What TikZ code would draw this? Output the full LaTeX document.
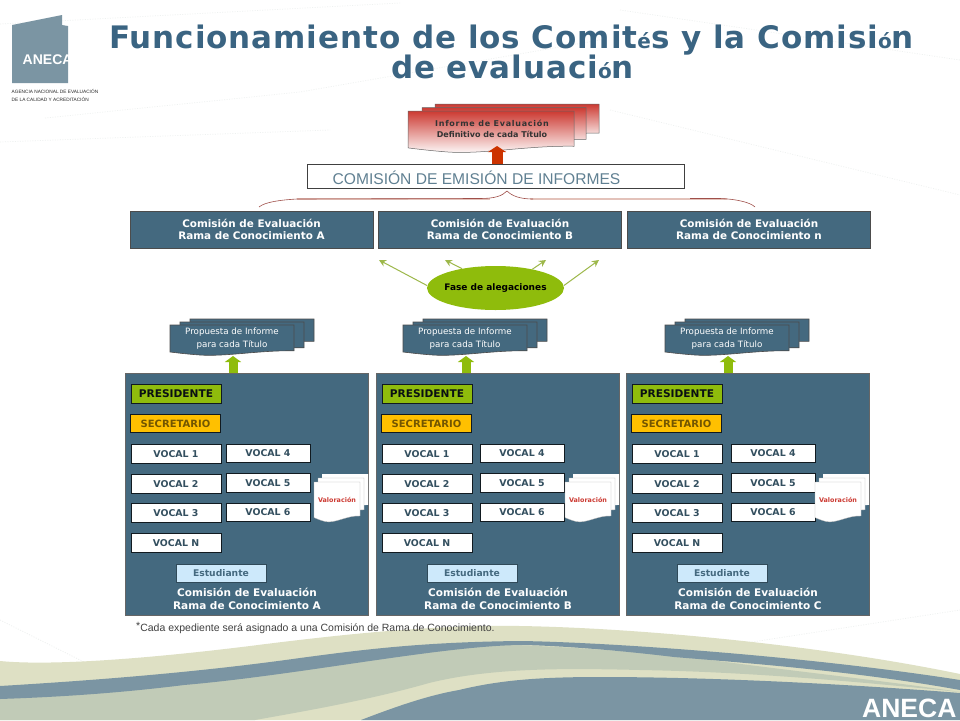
\documentclass[tikz,border=0pt]{standalone}
\usepackage{fontspec}
\setmainfont{DejaVu Sans}
\newfontfamily\lib{Liberation Sans}
\newfontfamily\titlef[LetterSpace=3]{DejaVu Sans}
\newfontfamily\spacedf[LetterSpace=9]{DejaVu Sans}
\usetikzlibrary{arrows.meta,shapes.geometric}
\definecolor{panelblue}{HTML}{44697F}
\definecolor{titleblue}{HTML}{3A6482}
\definecolor{slate}{HTML}{7B95A3}
\definecolor{khaki}{HTML}{DEE0C4}
\definecolor{sage}{HTML}{C1CBB7}
\definecolor{leaf}{HTML}{8FBC0C}
\definecolor{spokec}{HTML}{9DB84A}
\definecolor{amber}{HTML}{FFC000}
\definecolor{sky}{HTML}{CDE9FB}
\definecolor{brick}{HTML}{CC3300}
\definecolor{rosso}{HTML}{CC3A32}
\definecolor{bracec}{HTML}{A0504A}
\definecolor{bracep}{HTML}{E3C2BA}
\definecolor{ghost}{HTML}{EEF1F0}
\newcommand{\fs}[1]{\fontsize{#1}{#1}\selectfont}
\newcommand{\wavy}[5]{%
  \path[#5] (#1,#2) -- ({#1+#3},#2) -- ({#1+#3},{#2+#4*0.86})
    .. controls ({#1+#3*0.72},{#2+#4*0.84}) and ({#1+#3*0.45},{#2+#4*1.06}) .. ({#1+#3*0.24},{#2+#4})
    .. controls ({#1+#3*0.14},{#2+#4*0.97}) and ({#1+#3*0.06},{#2+#4*0.93}) .. (#1,{#2+#4*0.9}) -- cycle;}
\tikzset{
  x=1pt,y=-1pt,
  comhead/.style={rectangle,fill=panelblue,draw=black!70,line width=.6pt,minimum width=243pt,minimum height=37pt,inner sep=0,align=center,text=white,font=\bfseries\fs{10.4}},
  panel/.style={rectangle,fill=panelblue,draw=black!60,line width=.5pt,minimum width=243pt,minimum height=242pt,inner sep=0},
  rolebox/.style={rectangle,draw=black!75!panelblue,line width=.8pt,minimum width=90pt,minimum height=18.5pt,inner sep=0,font=\bfseries\fs{9.4}},
  vocal/.style={rolebox,fill=white,text=panelblue!75!black},
  vocalb/.style={vocal,minimum width=84pt},
  pres/.style={rolebox,fill=leaf,text=black!85!panelblue,font=\bfseries\fs{10.6}},
  secr/.style={rolebox,fill=amber,text=black!55!amber,font=\bfseries\fs{10}},
  estud/.style={rolebox,fill=sky,draw=panelblue!70!black,text=panelblue,font=\bfseries\fs{9.2}},
  captext/.style={text=white,font=\bfseries\fs{10.5},align=center,inner sep=0},
  proptxt/.style={text=white,font=\fs{8.7},align=center,inner sep=0},
  docpage/.style={fill=panelblue,draw=black!70,line width=.6pt},
  valpage/.style={fill=white,draw=none},
  valedge/.style={fill=white,draw=black!30,line width=.3pt},
  uparrow/.style={line width=9pt,draw=leaf,-{Triangle[width=16pt,length=6pt]}},
  redarrow/.style={line width=11pt,draw=brick,-{Triangle[width=18pt,length=6pt]}},
  spoke/.style={draw=spokec,line width=1pt,-{Stealth[length=7pt,width=7pt]}},
  bracel/.style={draw=bracec,line width=.6pt},
  bracew/.style={draw=bracep,line width=1.8pt},
  ghostl/.style={draw=ghost,line width=.7pt,dash pattern=on 1pt off 1.5pt},
}
\newcommand{\commission}[5]{%
  \node[panel,anchor=north west] (panel#2) at (#1,373) {};
  \wavy{#4+20}{319}{124}{26}{docpage}
  \wavy{#4+10}{322}{124}{30}{docpage}
  \wavy{#4}{325}{124}{30}{docpage}
  \node[proptxt] (prop#2) at ({#4+62},338.5) {Propuesta de Informe\\[3pt]para cada Título};
  \coordinate (propb#2) at ({#4+63},356);
  \draw[uparrow] (panel#2.north -| propb#2) -- (propb#2);
  \node[pres] (pr#2) at ({#1+51},394) {PRESIDENTE};
  \node[secr] (se#2) at ({#1+50.5},423.5) {SECRETARIO};
  \node[vocal] (va#2) at ({#1+51},454) {VOCAL 1};
  \node[vocal] (vb#2) at ({#1+51},484) {VOCAL 2};
  \node[vocal] (vc#2) at ({#1+51},513) {VOCAL 3};
  \node[vocal] (vn#2) at ({#1+51},543) {VOCAL N};
  \node[vocalb] (vd#2) at (#5,453.5) {VOCAL 4};
  \node[vocalb] (ve#2) at (#5,483) {VOCAL 5};
  \node[vocalb] (vf#2) at (#5,512.5) {VOCAL 6};
  \wavy{#1+197}{474}{46}{36}{valpage}
  \wavy{#1+193}{478}{46}{37}{valedge}
  \wavy{#1+189}{482}{46}{39.5}{valedge}
  \node[text=rosso,font=\bfseries\fs{6.4},inner sep=0] (val#2) at ({#1+212},499.5) {Valoración};
  \node[estud] (es#2) at ({#1+96},573.5) {Estudiante};
  \node[captext] (ca#2) at ({#1+122},599) {Comisión de Evaluación\\[2.5pt]Rama de Conocimiento #3};
}
\begin{document}
\begin{tikzpicture}
\useasboundingbox (0,0) rectangle (960,720);
\fill[white] (0,0) rectangle (960,720);
% faint background lines
\draw[ghostl] (0,24) -- (400,3);
\draw[ghostl] (45,118) -- (300,92) -- (600,40);
\draw[ghostl] (0,142) -- (330,130);
\draw[ghostl] (610,110) -- (960,195);
\draw[ghostl] (620,10) -- (960,60);
\draw[ghostl] (0,620) -- (120,680);
\draw[ghostl] (700,650) -- (960,610);
% footer waves
\fill[khaki] (0,661) .. controls (40,665) and (120,662) .. (250,646)
  .. controls (360,632) and (440,625) .. (520,626)
  .. controls (640,628) and (820,645) .. (960,674) -- (960,720) -- (0,720) -- cycle;
\fill[sage] (0,699) .. controls (120,690) and (300,665) .. (429,648)
  .. controls (500,640) and (600,650) .. (674,655) .. controls (780,670) and (880,680) .. (960,692)
  .. controls (880,684) and (760,672) .. (640,670) .. controls (560,668) and (490,668) .. (429,683) .. controls (370,700) and (300,712) .. (255,720) -- (0,720) -- cycle;
\fill[slate] (0,686) .. controls (100,680) and (200,672) .. (300,658) .. controls (360,650) and (420,642) .. (520,641)
  .. controls (600,642) and (800,655) .. (960,680) -- (960,690)
  .. controls (860,672) and (760,664) .. (674,657) .. controls (600,648) and (540,645) .. (520,645)
  .. controls (440,646) and (300,675) .. (184,685) .. controls (120,693) and (60,697) .. (0,699) -- cycle;
\fill[slate] (361,720) .. controls (400,705) and (430,695) .. (459,690) .. controls (500,680) and (540,677) .. (600,677)
  .. controls (720,677) and (860,685) .. (960,693) -- (960,720) -- cycle;
\node[text=white,font=\lib\bfseries\fs{26.5},inner sep=0,anchor=base west] (anecab) at (862,717.5) {ANECA};
% logo
\fill[slate] (12,25) -- (62,15) -- (62,25) -- (68,26) -- (68,83) -- (12,83) -- cycle;
\begin{scope}
\clip (12,15) rectangle (68,83);
\node[text=white,font=\lib\bfseries\fs{14},inner sep=0,anchor=base west] (anecal) at (22.5,64) {ANECA};
\end{scope}
\node[anchor=base west,inner sep=0,text=black!85,font=\lib\fs{4.75}] (lg1) at (11.5,93) {AGENCIA NACIONAL DE EVALUACIÓN};
\node[anchor=base west,inner sep=0,text=black!85,font=\lib\fs{4.75}] (lg2) at (11.5,101) {DE LA CALIDAD Y ACREDITACIÓN};
% title
\node[anchor=base,inner sep=0,text=titleblue,font=\titlef\bfseries\fs{31}] (t1) at (511.5,48.5) {Funcionamiento de los Comit{\fs{20}é}s y la Comisi{\fs{20}ó}n};
\node[anchor=base,inner sep=0,text=titleblue,font=\titlef\bfseries\fs{31}] (t2) at (512.5,78.5) {de evaluaci{\fs{20}ó}n};
% final report
\wavy{435}{104}{164}{34}{top color=rosso,bottom color=white,draw=black!60,line width=.5pt}
\wavy{422}{107.5}{164}{37}{top color=rosso,bottom color=white,draw=black!60,line width=.5pt}
\wavy{408}{111}{166}{41}{top color=rosso,bottom color=white,draw=black!60,line width=.5pt}
\node[font=\bfseries\fs{8},text=black!80,align=center,inner sep=0] (inf) at (492,129) {{\spacedf\bfseries Informe de Evaluación}\\[2.5pt]Definitivo de cada Título};
\node[rectangle,draw=black!75,fill=white,line width=.6pt,minimum width=377pt,minimum height=24pt,inner sep=0] (emis) at (495.5,176) {};
\node[font=\lib\fs{15.6},text=panelblue!85,inner sep=0] (emist) at (476.5,177.5) {COMISIÓN DE EMISIÓN DE INFORMES};
\coordinate (infb) at (497,146);
\draw[redarrow] (emis.north -| infb) -- (infb);
% brace
\coordinate (brl) at (259,207);
\coordinate (brr) at (755,207);
\coordinate (brc) at (507,191);
\draw[bracew] (297,199) -- (490,199);
\draw[bracew] (530,199) -- (727,199);
\draw[bracel] (brl) .. controls (265,202) and (280,200) .. (297,199) -- (480,198.5) .. controls (495,198.5) and (502,196) .. (brc)
  .. controls (512,196) and (520,199) .. (533,199);
\draw[bracel] (690,198.5) -- (720,198.5) .. controls (735,199) and (750,202) .. (brr);
% commission headers
\node[comhead] (hA) at (251.5,229.5) {Comisión de Evaluación\\[2pt]Rama de Conocimiento A};
\node[comhead] (hB) at (500,229.5) {Comisión de Evaluación\\[2pt]Rama de Conocimiento B};
\node[comhead] (hN) at (749,229.5) {Comisión de Evaluación\\[2pt]Rama de Conocimiento n};
% allegations
\node[ellipse,fill=leaf,minimum width=137pt,minimum height=44pt,inner sep=0] (fase) at (495.5,288) {};
\node[inner sep=0,font=\bfseries\fs{9},text=black] (faset) at (495.5,288.5) {Fase de alegaciones};
\coordinate (ta) at (379,260);
\coordinate (tb) at (445,260);
\coordinate (tc) at (546,260);
\coordinate (td) at (599,260);
\draw[spoke] (fase.178) -- (ta);
\draw[spoke] (fase.150) -- (tb);
\draw[spoke] (fase.27) -- (tc);
\draw[spoke] (fase.2) -- (td);
% commissions
\commission{125}{A}{A}{170}{268}
\commission{376}{B}{B}{403}{522}
\commission{626}{C}{C}{665}{773}
\node[anchor=base west,inner sep=0,font=\lib\fs{10.5},text=black!75] (nota) at (136,631) {\raisebox{2pt}{*}Cada expediente será asignado a una Comisión de Rama de Conocimiento.};
\end{tikzpicture}
\end{document}
